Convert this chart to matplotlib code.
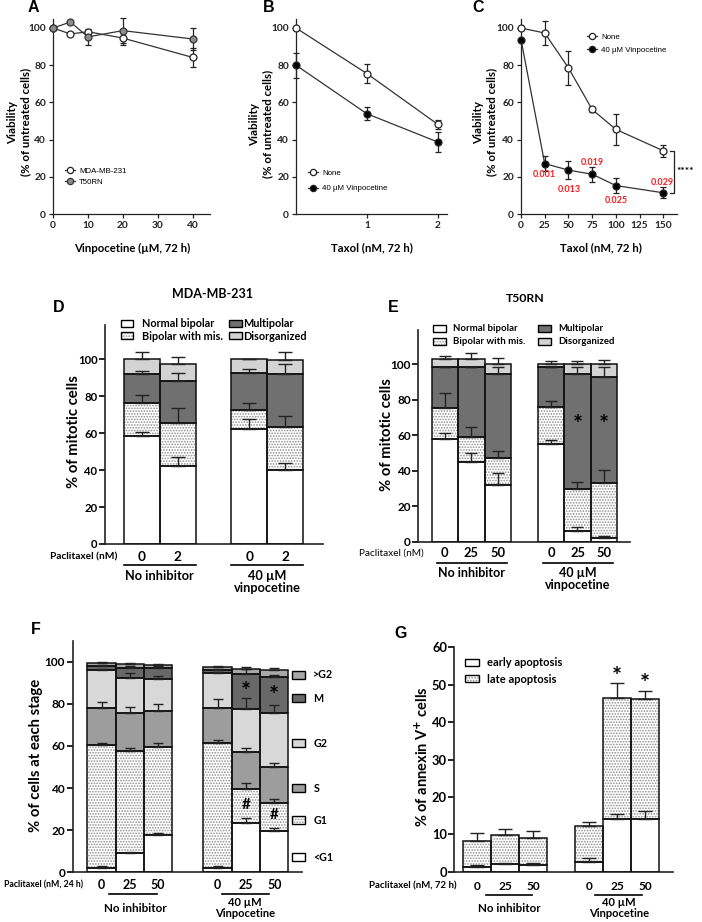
import numpy as np
import matplotlib
matplotlib.use('Agg')
import matplotlib.pyplot as plt
from matplotlib.patches import Rectangle
from matplotlib.lines import Line2D

plt.rcParams['font.family'] = ['Lato', 'DejaVu Sans']
plt.rcParams['font.weight'] = 'bold'
plt.rcParams['hatch.linewidth'] = 0.8

# ---------------- data ----------------
# Panel A
a_conc = [0, 5, 10, 20, 40]
a_mda = [100, 96.8, 98.0, 94.6, 84.2]
a_mda_err = [0, 0, 1.0, 4.0, 5.2]
a_t50 = [100, 103.2, 95.2, 98.6, 94.1]
a_t50_err = [0, 0, 4.2, 6.7, 5.8]
a_labels = ['MDA-MB-231', 'T50RN']

# Panel B
b_taxol = [0, 1, 2]
b_none = [100, 75.5, 48.2]
b_none_err = [0, 5.1, 2.4]
b_vin = [80.0, 53.9, 38.7]
b_vin_err = [6.7, 3.4, 5.3]

# Panel C
c_taxol = [0, 25, 50, 75, 100, 150]
c_none = [100, 97.3, 78.6, 56.2, 45.5, 34.0]
c_none_err = [0, 6.6, 9.0, 1.4, 8.4, 3.2]
c_vin = [93.8, 27.1, 23.6, 21.4, 15.3, 11.4]
c_vin_err = [0, 4.0, 4.8, 4.0, 3.8, 3.0]
c_pvals = ['0.001', '0.013', '0.019', '0.025', '0.029']
series_labels = ['None', '40 µM Vinpocetine']

# Panel D (MDA-MB-231) segment heights
mito_labels = ['Normal bipolar', 'Bipolar with mis.', 'Multipolar', 'Disorganized']
d_ticks = ['0', '2', '0', '2']
d_normal = [58.5, 42.4, 62.1, 40.0]
d_mis = [17.7, 22.9, 10.5, 23.2]
d_multi = [15.7, 23.0, 19.8, 28.8]
d_disorg = [8.1, 9.0, 7.6, 7.6]
d_normal_err = [2.3, 4.5, 5.6, 4.0]
d_mis_err = [4.5, 8.2, 3.6, 6.3]
d_multi_err = [1.8, 4.5, 2.2, 5.5]
d_disorg_err = [4.0, 4.1, 0.4, 4.5]

# Panel E (T50RN) segment heights
e_ticks = ['0', '25', '50', '0', '25', '50']
e_normal = [57.6, 44.7, 31.9, 55.0, 6.2, 1.9]
e_mis = [17.4, 14.4, 15.0, 20.6, 23.3, 31.3]
e_multi = [23.1, 39.0, 47.8, 22.5, 65.2, 59.3]
e_disorg = [4.5, 4.7, 5.3, 1.9, 5.3, 7.5]
e_normal_err = [3.4, 5.3, 6.9, 2.2, 2.2, 1.3]
e_mis_err = [8.5, 5.6, 4.3, 3.6, 3.9, 7.1]
e_multi_err = [0.5, 0.5, 3.4, 0.5, 3.4, 6.0]
e_disorg_err = [1.9, 3.2, 3.6, 1.7, 1.9, 2.3]

# Panel F (cell cycle) segment heights
phase_labels = ['<G1', 'G1', 'S', 'G2', 'M', '>G2']
f_ticks = ['0', '25', '50', '0', '25', '50']
f_subg1 = [2.2, 9.0, 17.7, 2.2, 23.3, 19.6]
f_g1 = [58.2, 48.8, 42.0, 59.0, 16.3, 13.5]
f_s = [17.4, 17.7, 16.9, 17.0, 17.7, 17.1]
f_g2 = [18.0, 16.6, 15.2, 16.2, 20.1, 25.6]
f_m = [2.0, 5.0, 5.0, 1.6, 16.8, 17.0]
f_gtg2 = [1.5, 1.6, 1.6, 1.4, 2.4, 3.2]
f_subg1_err = [1.0, 0.5, 0.8, 1.0, 2.3, 1.3]
f_g1_err = [1.2, 1.4, 1.5, 1.6, 2.6, 1.6]
f_s_err = [3.2, 2.8, 3.1, 3.9, 1.9, 1.9]
f_g2_err = [0.8, 2.4, 1.3, 0.5, 5.2, 3.4]
f_m_err = [0.5, 1.0, 1.0, 0.5, 2.4, 1.0]
f_gtg2_err = [0.5, 0.5, 0.5, 0.5, 1.0, 1.0]

# Panel G (annexin V)
apo_labels = ['early apoptosis', 'late apoptosis']
g_ticks = ['0', '25', '50', '0', '25', '50']
g_early = [1.3, 2.0, 1.8, 2.5, 14.1, 14.1]
g_late = [6.9, 7.8, 7.1, 9.7, 32.3, 32.1]
g_early_err = [0.5, 0.4, 0.6, 1.2, 1.3, 2.0]
g_late_err = [2.1, 1.6, 2.0, 1.2, 4.0, 2.0]

groups_de = ['No inhibitor', '40 µM\nvinpocetine']
groups_fg = ['No inhibitor', '40 µM\nVinpocetine']

# ---------------- figure ----------------
W, H = 702, 922
fig = plt.figure(figsize=(W / 100, H / 100), dpi=100)


def add_ax(l, t, r, b):
    ax = fig.add_axes([l / W, 1 - b / H, (r - l) / W, (b - t) / H])
    ax.patch.set_alpha(0)
    return ax


def ftext(x, y, s, **kw):
    kw.setdefault('ha', 'center')
    kw.setdefault('va', 'center')
    return fig.text(x / W, 1 - y / H, s, **kw)


def fbox(x1, x2, yc, h, fc='white', hatch=None, hc='#8a8a8a'):
    y0 = 1 - (yc + h / 2) / H
    if hatch:
        fig.add_artist(Rectangle((x1 / W, y0), (x2 - x1) / W, h / H,
                                 transform=fig.transFigure, facecolor=fc,
                                 hatch=hatch, edgecolor=hc, lw=0))
    else:
        fig.add_artist(Rectangle((x1 / W, y0), (x2 - x1) / W, h / H,
                                 transform=fig.transFigure, facecolor=fc, lw=0))
    fig.add_artist(Rectangle((x1 / W, y0), (x2 - x1) / W, h / H,
                             transform=fig.transFigure, fill=False,
                             edgecolor='black', lw=1.0))


LC = '#333333'


def style_line_ax(ax):
    for s in ['top', 'right']:
        ax.spines[s].set_visible(False)
    for s in ['left', 'bottom']:
        ax.spines[s].set_linewidth(0.9)
        ax.spines[s].set_color('#222222')
    ax.set_ylim(0, 105)
    ax.set_yticks([0, 20, 40, 60, 80, 100])
    ax.tick_params(length=3, width=0.9, labelsize=7.3, pad=2, colors='#222222')


def series(ax, x, y, err, mfc, mec='#222222', label=None):
    ax.errorbar(x, y, yerr=err, fmt='none', ecolor='#222222', elinewidth=0.9,
                capsize=2.4, capthick=0.9, zorder=2, clip_on=False)
    ax.plot(x, y, '-o', color=LC, lw=0.9, ms=5, mfc=mfc, mec=mec, mew=0.9,
            zorder=3, clip_on=False, label=label)


LEGPROP = {'family': 'Liberation Sans', 'weight': 'normal', 'size': 5.7}

# ---- Panel A ----
axA = add_ax(53, 18.7, 210, 214)
style_line_ax(axA)
axA.set_xlim(0, 45)
axA.set_xticks([0, 10, 20, 30, 40])
series(axA, a_conc, a_mda, a_mda_err, 'white', label=a_labels[0])
series(axA, a_conc, a_t50, a_t50_err, '#8c8c8c', mec='#333333', label=a_labels[1])
axA.legend(loc='upper left', bbox_to_anchor=(65 / W, 1 - 167 / H),
           bbox_transform=fig.transFigure, frameon=False, prop=LEGPROP,
           handlelength=1.3, handletextpad=0.5, labelspacing=0.45,
           borderpad=0, borderaxespad=0, markerscale=0.9)

# ---- Panel B ----
axB = add_ax(296, 18.7, 447, 214)
style_line_ax(axB)
axB.set_xlim(0, 2.13)
axB.set_xticks([1, 2])
series(axB, b_taxol, b_none, b_none_err, 'white', label=series_labels[0])
series(axB, b_taxol, b_vin, b_vin_err, 'black', label=series_labels[1])
axB.legend(loc='upper left', bbox_to_anchor=(308 / W, 1 - 169 / H),
           bbox_transform=fig.transFigure, frameon=False, prop=LEGPROP,
           handlelength=1.3, handletextpad=0.5, labelspacing=1.05,
           borderpad=0, borderaxespad=0, markerscale=0.9)

# ---- Panel C ----
axC = add_ax(521, 18.7, 677, 214)
style_line_ax(axC)
axC.set_xlim(0, 164.5)
axC.set_xticks([0, 25, 50, 75, 100, 125, 150])
series(axC, c_taxol, c_none, c_none_err, 'white', label=series_labels[0])
series(axC, c_taxol, c_vin, c_vin_err, 'black', label=series_labels[1])
axC.legend(loc='upper left', bbox_to_anchor=(587 / W, 1 - 33 / H),
           bbox_transform=fig.transFigure, frameon=False, prop=LEGPROP,
           handlelength=1.3, handletextpad=0.5, labelspacing=0.75,
           borderpad=0, borderaxespad=0, markerscale=0.9)
# p-values placed around the vinpocetine points
p_offsets = [(-0.8, -5.6), (1.4, -10.2), (0.2, 6.2), (0.4, -7.8), (-0.6, 5.6)]
for xv, yv, p, (dx, dy) in zip(c_taxol[1:], c_vin[1:], c_pvals, p_offsets):
    axC.text(xv + dx, yv + dy, p, color='#ff1a1a', fontsize=6.5, ha='center',
             va='center', clip_on=False)
axC.plot([157.5, 161, 161, 157.5], [c_none[-1], c_none[-1], c_vin[-1], c_vin[-1]],
         color='#222222', lw=0.9, clip_on=False)
axC.text(164, (c_none[-1] + c_vin[-1]) / 2, '****', fontsize=7.5, ha='left',
         va='center', clip_on=False)

# labels for A-C
for xc, yc in [(19, 122), (261, 124), (485, 122)]:
    ftext(xc, yc, 'Viability\n(% of untreated cells)', rotation=90,
          fontsize=8.3, linespacing=1.2)
ftext(132, 248, 'Vinpocetine (µM, 72 h)', fontsize=8.2)
ftext(372, 248, 'Taxol (nM, 72 h)', fontsize=8.2)
ftext(601, 248, 'Taxol (nM, 72 h)', fontsize=8.2)
for x, y, s in [(33, 8, 'A'), (269, 8, 'B'), (478, 8, 'C'),
                (59, 307, 'D'), (393, 307, 'E'), (36, 630, 'F'), (401, 633, 'G')]:
    ftext(x, y, s, fontsize=11.5, family=['Liberation Sans', 'DejaVu Sans'])

# ---------------- stacked bar panels ----------------
WHITE = dict(fc='white')
DOTS = dict(fc='white', hatch='......', hc='#8f8f8f')


def stacked(ax, pos, segs, errs, styles, capsize):
    bottoms = np.zeros(len(pos))
    for seg, err, st in zip(segs, errs, styles):
        seg = np.asarray(seg, float)
        if st.get('hatch'):
            ax.bar(pos, seg, bottom=bottoms, width=1.0, color=st['fc'],
                   hatch=st['hatch'], edgecolor=st['hc'], linewidth=0, zorder=2)
        else:
            ax.bar(pos, seg, bottom=bottoms, width=1.0, color=st['fc'],
                   linewidth=0, zorder=2)
        ax.bar(pos, seg, bottom=bottoms, width=1.0, fill=False,
               edgecolor='#111111', linewidth=1.1, zorder=3)
        tops = bottoms + seg
        ax.errorbar(pos, tops, yerr=[np.zeros_like(tops), err], fmt='none',
                    ecolor='#222222', elinewidth=1.0, capsize=capsize,
                    capthick=1.0, zorder=4)
        bottoms = tops


def style_bar_ax(ax, xlim, ylim, yticks, ysize):
    ax.set_xlim(*xlim)
    ax.set_ylim(*ylim)
    ax.set_yticks(yticks)
    for s in ['top', 'right']:
        ax.spines[s].set_visible(False)
    for s in ['left', 'bottom']:
        ax.spines[s].set_linewidth(1.2)
        ax.spines[s].set_color('#222222')
    ax.tick_params(axis='y', length=4, width=1.2, labelsize=ysize, pad=1.5)
    ax.set_xticks([])


def xticks_px(ax, pos, labels, rect, ypx, size):
    l, t, r, b = rect
    yax = (b - ypx) / (b - t)
    for p, s in zip(pos, labels):
        ax.text(p, yax, s, transform=ax.get_xaxis_transform(), ha='center',
                va='center', fontsize=size, clip_on=False)


def underline(ax, rect, x1, x2, ypx):
    l, t, r, b = rect
    yax = (b - ypx) / (b - t)
    ax.plot([x1, x2], [yax, yax], transform=ax.get_xaxis_transform(),
            color='black', lw=1.2, clip_on=False)


def group_text(ax, rect, x, ypx, s, size):
    l, t, r, b = rect
    yax = (b - ypx) / (b - t)
    ax.text(x, yax, s, transform=ax.get_xaxis_transform(), ha='center',
            va='top', fontsize=size, clip_on=False, linespacing=1.0)


# ---- Panel D ----
rectD = (105, 325, 323, 544)
axD = add_ax(*rectD)
posD = [0, 1, 3, 4]
style_bar_ax(axD, (-1.02, 5.05), (0, 118.6), [0, 20, 40, 60, 80, 100], 8.2)
stylesD = [WHITE, DOTS, dict(fc='#707070'), dict(fc='#d3d3d3')]
stacked(axD, posD, [d_normal, d_mis, d_multi, d_disorg],
        [d_normal_err, d_mis_err, d_multi_err, d_disorg_err], stylesD, 4.7)
xticks_px(axD, posD, d_ticks, rectD, 557, 9.8)
ftext(117, 557, 'Paclitaxel (nM)', ha='right', fontsize=7.3)
underline(axD, rectD, posD[0] - 0.5, posD[1] + 0.5, 565)
underline(axD, rectD, posD[2] - 0.5, posD[3] + 0.5, 565)
group_text(axD, rectD, (posD[0] + posD[1]) / 2, 570, groups_de[0], 9.2)
group_text(axD, rectD, (posD[2] + posD[3]) / 2, 570, groups_de[1], 9.2)
ftext(213, 294, 'MDA-MB-231', fontsize=9)
ftext(74, 432, '% of mitotic cells', rotation=90, fontsize=10.7)
for (bx, tx), rowy, lab, st in [((120.7, 141.7), 323.3, mito_labels[0], WHITE),
                                ((120.7, 141.7), 336, mito_labels[1], DOTS),
                                ((229, 243.3), 323.3, mito_labels[2], stylesD[2]),
                                ((229, 243.3), 336, mito_labels[3], stylesD[3])]:
    fbox(bx, bx + 12.5, rowy, 7, fc=st['fc'], hatch=st.get('hatch'), hc=st.get('hc', 'k'))
    ftext(tx, rowy, lab, ha='left', fontsize=7.8)

# ---- Panel E ----
rectE = (418.3, 330, 630, 541.7)
axE = add_ax(*rectE)
posE = [0, 1, 2, 4, 5, 6]
style_bar_ax(axE, (-1.0, 6.98), (0, 119.2), [0, 20, 40, 60, 80, 100], 8.5)
stacked(axE, posE, [e_normal, e_mis, e_multi, e_disorg],
        [e_normal_err, e_mis_err, e_multi_err, e_disorg_err], stylesD, 4.3)
for p in posE[4:]:
    axE.text(p, 65.5, '*', ha='center', va='center', fontsize=17, zorder=5)
xticks_px(axE, posE, e_ticks, rectE, 553, 9.3)
ftext(424, 553, 'Paclitaxel (nM)', ha='right', fontsize=7.2, fontweight='normal')
underline(axE, rectE, posE[0] - 0.3, posE[2] + 0.35, 563)
underline(axE, rectE, posE[3] - 0.3, posE[5] + 0.35, 563)
group_text(axE, rectE, posE[1], 567, groups_de[0], 9.0)
group_text(axE, rectE, posE[4], 567, groups_de[1], 9.0)
ftext(525, 299, 'T50RN', fontsize=8.8)
ftext(387, 435, '% of mitotic cells', rotation=90, fontsize=10.7)
for (bx, tx), rowy, lab, st in [((433.3, 452.7), 328.3, mito_labels[0], WHITE),
                                ((433.3, 452.7), 341.7, mito_labels[1], DOTS),
                                ((538.3, 558.3), 328.3, mito_labels[2], stylesD[2]),
                                ((538.3, 558.3), 341.7, mito_labels[3], stylesD[3])]:
    fbox(bx, bx + 12.5, rowy, 7, fc=st['fc'], hatch=st.get('hatch'), hc=st.get('hc', 'k'))
    ftext(tx, rowy, lab, ha='left', fontsize=6.9)

# ---- Panel F ----
rectF = (72.7, 641.4, 301.7, 872.3)
axF = add_ax(*rectF)
posF = [0, 1, 2, 4.1, 5.1, 6.1]
style_bar_ax(axF, (-1.02, 7.07), (0, 109.6), [0, 20, 40, 60, 80, 100], 8.6)
stylesF = [WHITE, DOTS, dict(fc='#9d9d9d'), dict(fc='#d8d8d8'),
           dict(fc='#686868'), dict(fc='#a8a8a8')]
stacked(axF, posF, [f_subg1, f_g1, f_s, f_g2, f_m, f_gtg2],
        [f_subg1_err, f_g1_err, f_s_err, f_g2_err, f_m_err, f_gtg2_err],
        stylesF, 3.6)
axF.text(posF[4], 85.5, '*', ha='center', va='center', fontsize=17, zorder=5)
axF.text(posF[5], 83.3, '*', ha='center', va='center', fontsize=17, zorder=5)
axF.text(posF[4], 32.0, '#', ha='center', va='center', fontsize=11, zorder=5)
axF.text(posF[5], 27.2, '#', ha='center', va='center', fontsize=11, zorder=5)
xticks_px(axF, posF, f_ticks, rectF, 885, 9.0)
ftext(83, 885, 'Paclitaxel (nM, 24 h)', ha='right', fontsize=6.3)
underline(axF, rectF, posF[0] + 0.27, posF[2] - 0.04, 894)
underline(axF, rectF, posF[3] + 0.17, posF[5] - 0.18, 894)
group_text(axF, rectF, 1.18, 903, groups_fg[0], 8.4)
group_text(axF, rectF, 5.07, 897, groups_fg[1], 8.0)
ftext(36, 755, '% of cells at each stage', rotation=90, fontsize=10.7)
legF_y = [857, 820, 788, 743, 698, 675]
for yy, lab, st in zip(legF_y, phase_labels, stylesF):
    fbox(291.7, 305, yy, 8, fc=st['fc'], hatch=st.get('hatch'), hc=st.get('hc', 'k'))
    ftext(313.3, yy, lab, ha='left', fontsize=7.7)

# ---- Panel G ----
rectG = (454, 647.3, 673.3, 871.7)
axG = add_ax(*rectG)
posG = [0, 1, 2, 4, 5, 6]
style_bar_ax(axG, (-0.83, 7.0), (0, 60), [0, 10, 20, 30, 40, 50, 60], 9.3)
axG.tick_params(axis='y', pad=1.0)
stacked(axG, posG, [g_early, g_late], [g_early_err, g_late_err], [WHITE, DOTS], 4.7)
axG.text(posG[4], 52.0, '*', ha='center', va='center', fontsize=17)
axG.text(posG[5], 50.0, '*', ha='center', va='center', fontsize=17)
xticks_px(axG, posG, g_ticks, rectG, 886, 8.6)
ftext(457, 886, 'Paclitaxel (nM, 72 h)', ha='right', fontsize=6.9)
underline(axG, rectG, posG[0] + 0.3, posG[2] - 0.05, 895)
underline(axG, rectG, posG[3] + 0.2, posG[5] - 0.12, 895)
group_text(axG, rectG, 1.13, 903, groups_fg[0], 8.4)
group_text(axG, rectG, 5.05, 897, groups_fg[1], 8.0)
ftext(422, 757, '% of annexin V$^{+}$ cells', rotation=90, fontsize=10.5)
for yy, lab, st in zip([662.3, 679], apo_labels, [WHITE, DOTS]):
    fbox(465, 479.3, yy, 7, fc=st['fc'], hatch=st.get('hatch'), hc=st.get('hc', 'k'))
    ftext(486.7, yy, lab, ha='left', fontsize=8.0)

fig.savefig('out.png', dpi=100)
